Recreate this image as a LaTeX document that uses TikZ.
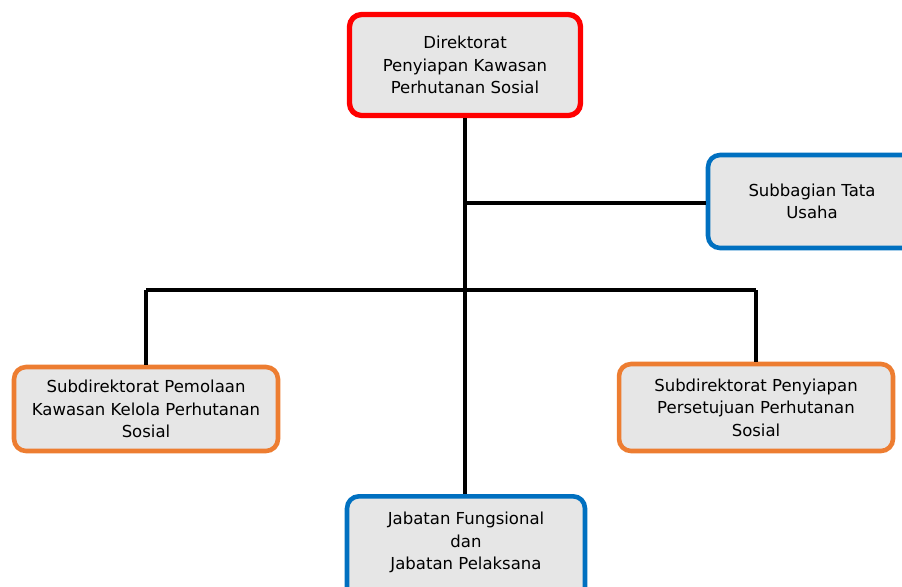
\documentclass[tikz,border=0pt]{standalone}
\usepackage{fontspec}
\setmainfont{DejaVu Sans}
\usetikzlibrary{positioning}
\definecolor{boxgray}{RGB}{230,230,230}
\definecolor{lineRed}{RGB}{255,0,0}
\definecolor{lineBlue}{RGB}{0,112,192}
\definecolor{lineOrange}{RGB}{237,125,49}

\begin{document}
\begin{tikzpicture}[
    x=0.02cm, y=-0.02cm,
    unit/.style={rectangle, rounded corners=0.24cm, align=center, fill=boxgray, inner sep=2pt, font=\fontsize{9.4}{12.8}\selectfont},
    topunit/.style={unit, draw=lineRed, line width=3pt, minimum width=4.62cm, minimum height=2.02cm},
    staffunit/.style={unit, draw=lineBlue, line width=2.6pt},
    subunit/.style={unit, draw=lineOrange, line width=2.6pt},
    link/.style={line width=2.1pt, black}
]
\useasboundingbox (0,0) rectangle (902,586);

% Nodes
\node (dir) [topunit] at (465,65) {Direktorat\\Penyiapan Kawasan\\Perhutanan Sosial};
\node (tu) [staffunit, minimum width=4.16cm, minimum height=1.86cm] at (812,201.5) {Subbagian Tata\\Usaha};
\node (subL) [subunit, minimum width=5.28cm, minimum height=1.68cm] at (146,409) {Subdirektorat Pemolaan\\Kawasan Kelola Perhutanan\\Sosial};
\node (subR) [subunit, minimum width=5.48cm, minimum height=1.74cm] at (756,407.5) {Subdirektorat Penyiapan\\Persetujuan Perhutanan\\Sosial};
\node (jab) [staffunit, minimum width=4.76cm, anchor=north, inner ysep=9pt, text depth=2cm] at (466,494) {Jabatan Fungsional\\dan\\Jabatan Pelaksana};

% Junctions
\coordinate (jTU) at (465,203);
\coordinate (busL) at (146,290);
\coordinate (busR) at (756,290);

% Lines
\draw [link] (dir.south) -- (dir.south |- jab.north);
\draw [link] (jTU) -- (jTU -| tu.west);
\draw [link] (busL) -- (busR);
\draw [link] (busL) -- (subL.north);
\draw [link] (busR) -- (subR.north);

\end{tikzpicture}
\end{document}
